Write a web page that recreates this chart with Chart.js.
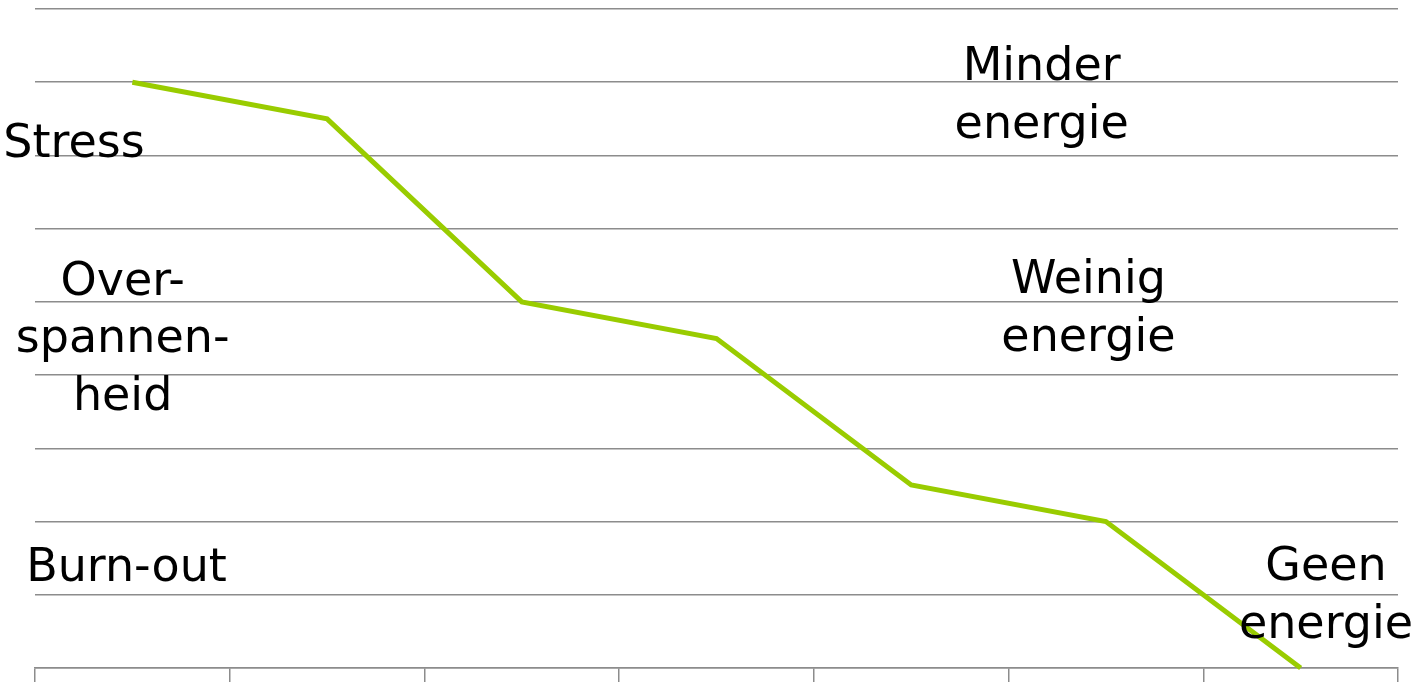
<!DOCTYPE html>
<html>
<head>
<meta charset="utf-8">
<script src="https://cdn.jsdelivr.net/npm/chart.js@4/dist/chart.umd.min.js"></script>
<style>
  html, body { margin: 0; padding: 0; background: #fff; }
  #wrap { width: 1422px; height: 682px; }
</style>
</head>
<body>
<div id="wrap"><canvas id="energy-chart"></canvas></div>
<script>
// seven stages, energy level falls from stress to burn-out
const stages = ['1', '2', '3', '4', '5', '6', '7'];
const energy = [8, 7.5, 5, 4.5, 2.5, 2, 0];
const yTicks = [0, 1, 2, 3, 4, 5, 6, 7, 8, 9];

// text annotations: lines, x (category index), y (value of first baseline)
const noteLines = [
    ['Stress'],
    ['Over-', 'spannen-', 'heid'],
    ['Burn-out'],
    ['Minder', 'energie'],
    ['Weinig', 'energie'],
    ['Geen', 'energie'],
];
const noteX = [-0.3, -0.05, -0.03, 4.67, 4.91, 6.13];
const noteY = [6.98, 5.1, 1.19, 8.03, 5.12, 1.2];

const gridColor = '#8c8c8c';
const lineColor = '#99cc00';

const notesPlugin = {
    id: 'notes',
    afterDatasetsDraw(chart) {
        const { ctx, scales: { x, y } } = chart;
        ctx.save();
        ctx.font = '46px "DejaVu Sans", sans-serif';
        ctx.fillStyle = '#000';
        ctx.textAlign = 'center';
        ctx.textBaseline = 'alphabetic';
        noteLines.forEach((lines, i) => {
            const px = x.getPixelForValue(noteX[i]);
            const py = y.getPixelForValue(noteY[i]);
            lines.forEach((t, j) => ctx.fillText(t, px, py + j * 57.5));
        });
        ctx.restore();
    }
};

new Chart(document.getElementById('energy-chart'), {
    type: 'line',
    data: {
        labels: stages,
        datasets: [{
            data: energy,
            borderColor: lineColor,
            borderWidth: 5,
            pointRadius: 0,
            tension: 0,
            clip: 10,
        }]
    },
    options: {
        responsive: true,
        maintainAspectRatio: false,
        animation: false,
        layout: { padding: { left: 35, right: 24, top: 9, bottom: 0 } },
        plugins: {
            legend: { display: false },
            tooltip: { enabled: false },
        },
        scales: {
            x: {
                offset: true,
                grid: {
                    offset: true,
                    drawOnChartArea: false,
                    drawTicks: true,
                    tickLength: 14,
                    color: gridColor,
                    lineWidth: 1.5,
                },
                border: { display: true, color: gridColor, width: 1.5 },
                ticks: { display: false },
            },
            y: {
                min: 0,
                max: 9,
                afterBuildTicks(scale) {
                    scale.ticks = yTicks.map(v => ({ value: v }));
                },
                grid: { color: gridColor, lineWidth: 1.5, drawTicks: false },
                border: { display: false },
                ticks: { display: false },
            },
        },
    },
    plugins: [notesPlugin],
});
</script>
</body>
</html>
